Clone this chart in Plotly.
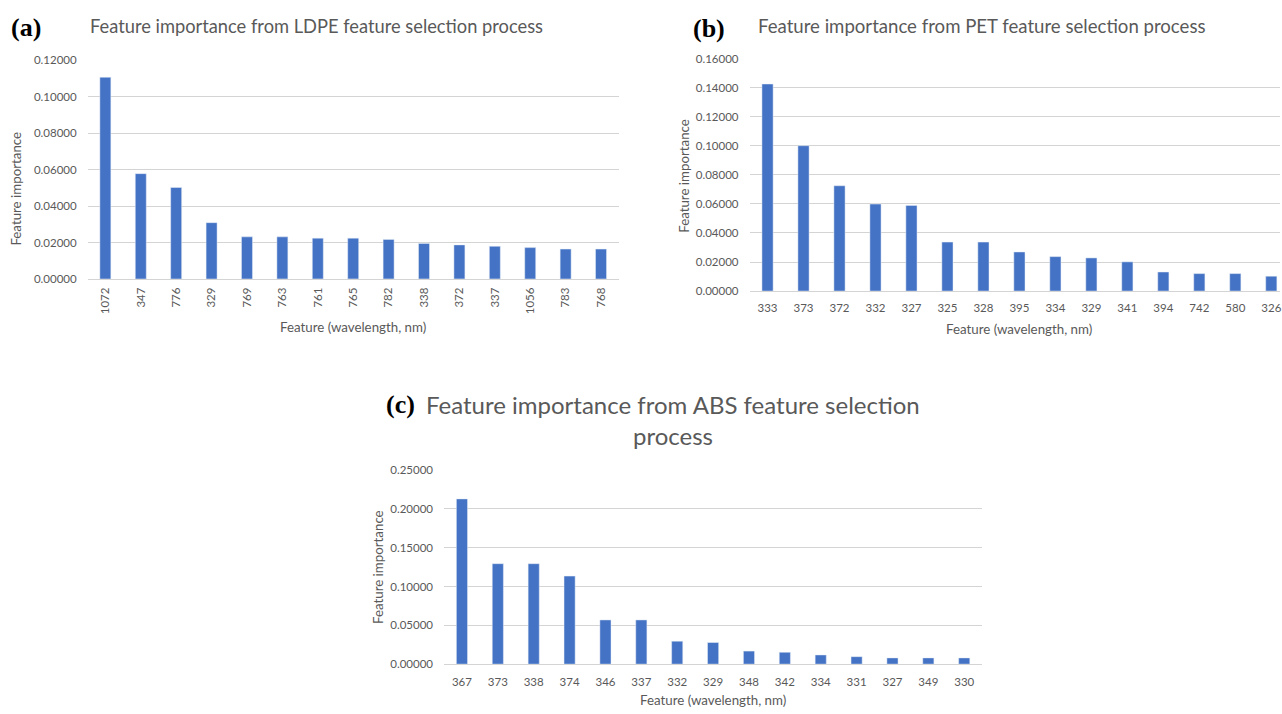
import plotly.graph_objects as go

W, H = 1282, 714

# Panel (a): LDPE
ldpe_features = ["1072", "347", "776", "329", "769", "763", "761", "765",
                 "782", "338", "372", "337", "1056", "783", "768"]
ldpe_importance = [0.1107, 0.0578, 0.0502, 0.0309, 0.0231, 0.0231, 0.0224, 0.0224,
                   0.0217, 0.0195, 0.0187, 0.0179, 0.0172, 0.0164, 0.0164]

# Panel (b): PET
pet_features = ["333", "373", "372", "332", "327", "325", "328", "395",
                "334", "329", "341", "394", "742", "580", "326"]
pet_importance = [0.1426, 0.1001, 0.0725, 0.0599, 0.0590, 0.0337, 0.0337, 0.0269,
                  0.0237, 0.0228, 0.0201, 0.0131, 0.0120, 0.0120, 0.0102]

# Panel (c): ABS
abs_features = ["367", "373", "338", "374", "346", "337", "332", "329",
                "348", "342", "334", "331", "327", "349", "330"]
abs_importance = [0.2129, 0.1294, 0.1294, 0.1134, 0.0569, 0.0569, 0.0295, 0.0278,
                  0.0168, 0.0152, 0.0118, 0.0096, 0.0080, 0.0080, 0.0080]

BAR = "#4472C4"
GRID = "#d4d4d4"
TXT = "#595959"
FONT = "Lato"


def px(x):
    return x / W


def py(y):
    return 1 - y / H


fig = go.Figure()

fig.add_trace(go.Bar(x=ldpe_features, y=ldpe_importance, marker_color=BAR,
                     xaxis="x", yaxis="y", width=0.31))
fig.add_trace(go.Bar(x=pet_features, y=pet_importance, marker_color=BAR,
                     xaxis="x2", yaxis="y2", width=0.31))
fig.add_trace(go.Bar(x=abs_features, y=abs_importance, marker_color=BAR,
                     xaxis="x3", yaxis="y3", width=0.31))

tickfont = dict(family=FONT, size=11.5, color=TXT)


def xax(domain, anchor, rng, angle, standoff):
    return dict(domain=domain, anchor=anchor, type="category", range=rng,
                showgrid=False, showline=True, linecolor=GRID, linewidth=1,
                ticks="", tickangle=angle, tickfont=tickfont,
                ticklabelstandoff=standoff, fixedrange=True)


def yax(domain, anchor, top, dtick):
    return dict(domain=domain, anchor=anchor, range=[0, top], dtick=dtick,
                tickformat=".5f", showgrid=True, gridcolor=GRID, gridwidth=1,
                zeroline=False, showline=False, ticks="", tickfont=tickfont,
                ticklabelstandoff=10, fixedrange=True)


# plot-area pixel boxes
a_x0, a_x1, a_y0, a_y1 = 87.8, 619.7, 54.3, 277
b_x0, b_x1, b_y0, b_y1 = 750.7, 1282, 52.7, 289.3
c_x0, c_x1, c_y0, c_y1 = 444.7, 983.7, 471.7, 669.3

# the PET panel runs off the right edge of the page; categories keep their spacing
b_step = 36.04
b_range = [-0.5, -0.5 + (b_x1 - b_x0) / b_step]

fig.update_layout(
    width=W, height=H,
    margin=dict(l=0, r=0, t=0, b=0),
    paper_bgcolor="white", plot_bgcolor="white",
    showlegend=False,
    xaxis=xax([px(a_x0), px(a_x1)], "y", [-0.5, 14.5], -90, 3),
    yaxis=yax([py(a_y1), py(a_y0)], "x", 0.12001, 0.02),
    xaxis2=xax([px(b_x0), px(b_x1)], "y2", b_range, 0, 6),
    yaxis2=yax([py(b_y1), py(b_y0)], "x2", 0.16001, 0.02),
    xaxis3=xax([px(c_x0), px(c_x1)], "y3", [-0.5, 14.5], 0, 7),
    yaxis3=yax([py(c_y1), py(c_y0)], "x3", 0.25001, 0.05),
)

ann = []


def text(x, y, s, size, color=TXT, family=FONT, angle=0, xanchor="center",
         yanchor="middle", bold=False):
    if bold:
        s = "<b>" + s + "</b>"
    ann.append(dict(x=px(x), y=py(y), xref="paper", yref="paper", text=s,
                    showarrow=False, font=dict(family=family, size=size, color=color),
                    textangle=angle, xanchor=xanchor, yanchor=yanchor))


SERIF = "Liberation Serif"

# panel letters
text(9, 21, "(a)", 26, color="black", family=SERIF, xanchor="left", bold=True)
text(692, 22, "(b)", 26, color="black", family=SERIF, xanchor="left", bold=True)
text(385, 405, "(c)", 26, color="black", family=SERIF, xanchor="left", bold=True)

# chart titles
text(88, 19, "Feature importance from LDPE feature selection process", 18.3, xanchor="left")
text(757, 19, "Feature importance from PET feature selection process", 18.6, xanchor="left")
text(674, 405, "Feature importance from ABS feature selection", 24)
text(674, 436, "process", 24)

# axis titles
text(16, 185, "Feature importance", 13.3, angle=-90)
text(685, 172, "Feature importance", 13.3, angle=-90)
text(378, 570, "Feature importance", 13.3, angle=-90)
text((a_x0 + a_x1) / 2, 326, "Feature (wavelength, nm)", 13.3)
text(1021, 328, "Feature (wavelength, nm)", 13.3)
text((c_x0 + c_x1) / 2, 706, "Feature (wavelength, nm)", 13.3)

fig.update_layout(annotations=ann)

fig.write_html("out.html")
